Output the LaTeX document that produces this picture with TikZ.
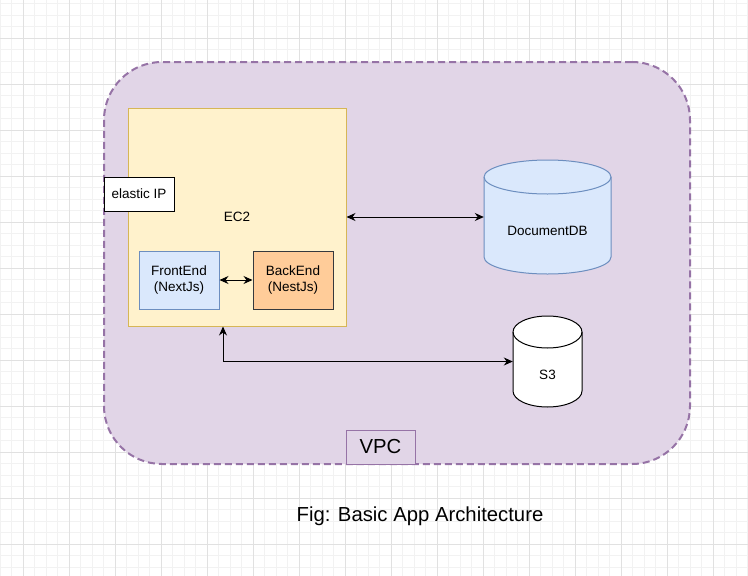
\documentclass[tikz,border=0pt]{standalone}
\usepackage{fontspec}
\setmainfont{Liberation Sans}
\usetikzlibrary{arrows.meta,positioning}

\definecolor{vpcfill}{HTML}{E1D5E7}
\definecolor{vpcline}{HTML}{9673A6}
\definecolor{ecfill}{HTML}{FFF2CC}
\definecolor{ecline}{HTML}{D6B656}
\definecolor{bluefill}{HTML}{DAE8FC}
\definecolor{blueline}{HTML}{6C8EBF}
\definecolor{orangefill}{HTML}{FFCC99}
\definecolor{orangeline}{HTML}{36393D}
\definecolor{gridminor}{HTML}{F2F2F2}
\definecolor{gridmajor}{HTML}{E1E1E1}

\newcommand\lblfont{\fontsize{13.5}{16.5}\selectfont}
\newcommand\bigfont{\fontsize{20.3}{24}\selectfont}

\tikzset{
  box/.style={rectangle, draw, line width=1pt, inner sep=0pt, align=center, font=\lblfont},
  cylbox/.style={rectangle, inner sep=0pt, align=center, label distance=0pt},
  link/.style={line width=1pt, {Stealth[length=9pt,width=8pt]}-{Stealth[length=9pt,width=8pt]}},
  minorgrid/.style={gridminor, line width=0.8pt},
  majorgrid/.style={gridmajor, line width=0.8pt}
}

\begin{document}
\begin{tikzpicture}[x=1pt, y=-1pt]
  \useasboundingbox (0,0) rectangle (748,576);
  \fill[white] (0,0) rectangle (748,576);

  % grid
  \foreach \gx in {0,11.5,...,748} {\draw[minorgrid] (\gx,0) -- (\gx,576);}
  \foreach \gy in {3.5,15,...,576} {\draw[minorgrid] (0,\gy) -- (748,\gy);}
  \foreach \gx in {23,69,...,748} {\draw[majorgrid] (\gx,0) -- (\gx,576);}
  \foreach \gy in {38,84,...,576} {\draw[majorgrid] (0,\gy) -- (748,\gy);}

  \node[rectangle, fill=vpcfill, draw=vpcline, line width=2pt, dash pattern=on 7pt off 4pt,
    rounded corners=58pt, minimum width=586pt, minimum height=402pt] (vpc) at (397,263) {};
  \node[box, fill=vpcfill, draw=vpcline, font=\bigfont, minimum width=69pt, minimum height=34pt] (vpclabel) at (380.5,447) {VPC};

  \node[box, fill=ecfill, draw=ecline, minimum width=218pt, minimum height=218pt] (ec2) at (237,217) {EC2};
  \node[box, fill=white, draw=black, minimum width=70pt, minimum height=34pt] (eip) at (139,194) {elastic IP};
  \node[box, fill=bluefill, draw=blueline, minimum width=80pt, minimum height=58pt] (frontend) at (179,280) {FrontEnd\\(NextJs)};
  \node[box, fill=orangefill, draw=orangeline, minimum width=80pt, minimum height=58pt] (backend) at (293,280) {BackEnd\\(NestJs)};

  % databases
  \coordinate (dbpos) at (547.5,217);
  \filldraw[fill=bluefill, draw=blueline, line width=1pt]
    ([shift={(-63.5,-40)}]dbpos) -- ([shift={(-63.5,40)}]dbpos)
    arc[start angle=180, end angle=360, x radius=63.5pt, y radius=17pt]
    -- ([shift={(63.5,-40)}]dbpos)
    arc[start angle=0, end angle=180, x radius=63.5pt, y radius=17pt] -- cycle;
  \draw[blueline, line width=1pt] ([shift={(-63.5,-40)}]dbpos)
    arc[start angle=180, end angle=360, x radius=63.5pt, y radius=17pt];
  \node[cylbox, minimum width=127pt, minimum height=114pt,
    label={[yshift=-14pt, font=\lblfont]center:DocumentDB}] (docdb) at (dbpos) {};

  \coordinate (s3pos) at (547.5,361.5);
  \filldraw[fill=white, draw=black, line width=1pt]
    ([shift={(-34.5,-29.5)}]s3pos) -- ([shift={(-34.5,29.5)}]s3pos)
    arc[start angle=180, end angle=360, x radius=34.5pt, y radius=16pt]
    -- ([shift={(34.5,-29.5)}]s3pos)
    arc[start angle=0, end angle=180, x radius=34.5pt, y radius=16pt] -- cycle;
  \draw[black, line width=1pt] ([shift={(-34.5,-29.5)}]s3pos)
    arc[start angle=180, end angle=360, x radius=34.5pt, y radius=16pt];
  \node[cylbox, minimum width=69pt, minimum height=91pt,
    label={[yshift=-13.5pt, font=\lblfont]center:S3}] (s3) at (s3pos) {};

  \draw[link] (frontend) -- (backend);
  \draw[link] (ec2.east) -- (docdb.west);
  \draw[link] ([xshift=-14pt]ec2.south) |- (s3.west);

  \node[font=\bigfont] (caption) at (420,516) {Fig: Basic App Architecture};
\end{tikzpicture}
\end{document}
